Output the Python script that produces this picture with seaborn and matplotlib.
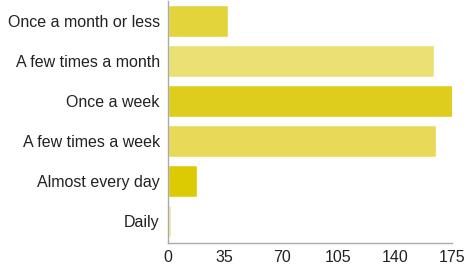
import matplotlib
matplotlib.use("Agg")
import matplotlib.pyplot as plt
import seaborn as sns
import pandas as pd

categories = ["Once a month or less", "A few times a month", "Once a week",
              "A few times a week", "Almost every day", "Daily"]
values = [37, 164, 176, 165, 18, 2]
colors = ["#e3d43c", "#ebe073", "#dfcd1d", "#e8da58", "#dccb03", "#f0e796"]
xticks = [0, 35, 70, 105, 140, 175]

df = pd.DataFrame({"category": categories, "value": values})

sns.set_theme(style="white")
plt.rcParams["font.family"] = ["Liberation Sans", "DejaVu Sans"]

fig = plt.figure(figsize=(4.66, 2.66), dpi=100)
ax = fig.add_axes([168/466, 23/266, 284/466, 242/266])
sns.barplot(data=df, y="category", x="value", hue="category", palette=colors,
            order=categories, hue_order=categories, legend=False, width=0.8,
            saturation=1, ax=ax)
ax.set_xlim(0, 175)
ax.set_ylim(5.55, -0.5)
ax.set_xticks(xticks)
ax.set_xticklabels([str(t) for t in xticks])
ax.set_xlabel("")
ax.set_ylabel("")
for s in ["top", "right"]:
    ax.spines[s].set_visible(False)
for s in ["left", "bottom"]:
    ax.spines[s].set_color("#aaaaaa")
    ax.spines[s].set_linewidth(1)
ax.tick_params(axis="both", length=4, width=1, color="#aaaaaa",
               labelsize=11.5, labelcolor="#222222", pad=2)
ax.tick_params(axis="x", pad=1)
fig.savefig("out.png", dpi=100)
